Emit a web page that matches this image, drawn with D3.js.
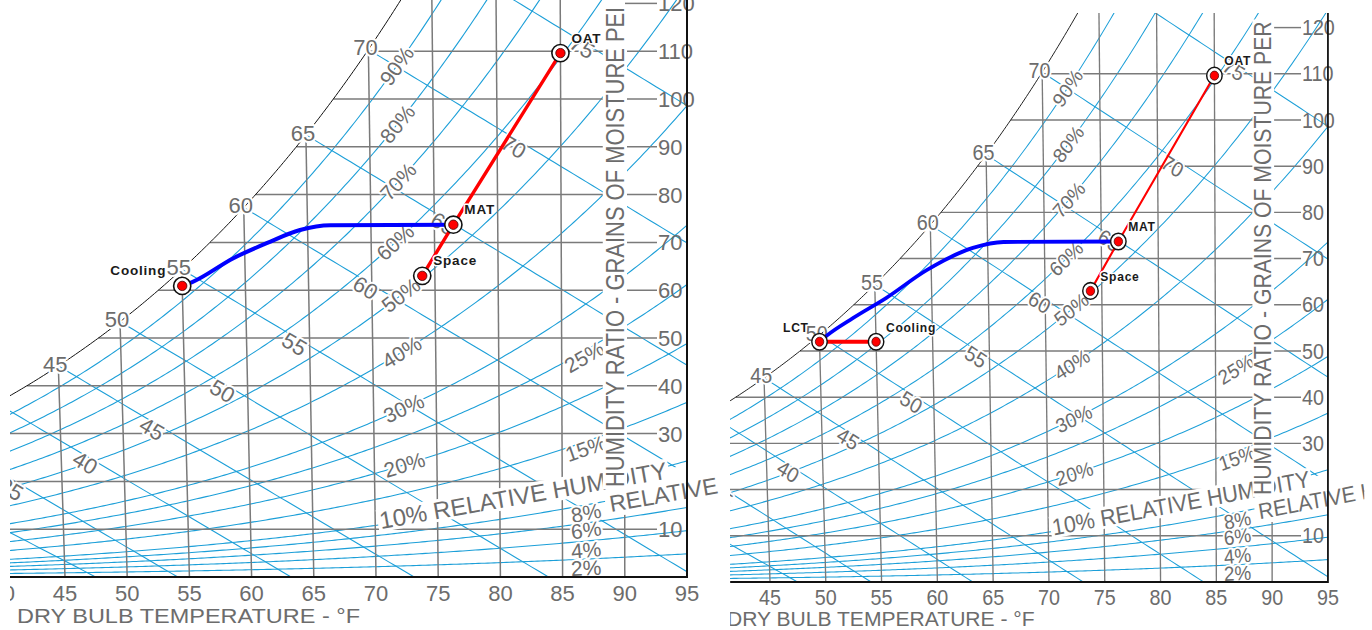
<!DOCTYPE html>
<html><head><meta charset="utf-8">
<script src="https://cdn.jsdelivr.net/npm/d3@7/dist/d3.min.js"></script>
<style>html,body{margin:0;padding:0;background:#fff;}svg{display:block;}</style>
</head><body>
<svg id="chart" width="1372" height="630"></svg>
<script>
// ================= DATA =================
const dryBulbTicks   = [40, 45, 50, 55, 60, 65, 70, 75, 80, 85, 90, 95];
const humidityTicks  = [10, 20, 30, 40, 50, 60, 70, 80, 90, 100, 110, 120];
const dryBulbGrid    = [45, 50, 55, 60, 65, 70, 75, 80, 85];
const humidityGrid   = [10, 20, 30, 40, 50, 60, 70, 80, 90, 100, 110];
const rhCurves       = [2, 4, 6, 8, 10, 15, 20, 25, 30, 40, 50, 60, 70, 80, 90];
const wetBulbCurves  = [30, 35, 40, 45, 50, 55, 60, 65, 70, 75];
const saturationLabels = [45, 50, 55, 60, 65, 70];
const rhLabelLevels  = [90, 80, 70, 60, 50, 40, 30, 20, 25, 15, 8, 6, 4, 2];
const wetBulbLabels  = [35, 40, 45, 50, 55, 60, 65, 70, 75];
const xTitle  = "DRY BULB TEMPERATURE - °F";
const yTitle  = "HUMIDITY RATIO - GRAINS OF MOISTURE PER";
const rhTitle = "10% RELATIVE HUMIDITY";
const rhTitle2 = "RELATIVE HUMIDITY";

// chart 1 states (dry bulb °F, humidity ratio grains/lb)
const chart1States  = ["Cooling", "Space", "MAT", "OAT"];
const chart1DryBulb = [55.0, 74.0, 76.5, 85.0];
const chart1Grains  = [60.9, 63.0, 73.7, 109.6];
const chart1CoilDryBulb = [55.0, 55.8, 59.1, 61.8, 64.4, 66.8, 76.5];
const chart1CoilGrains  = [60.9, 61.7, 66.7, 69.9, 72.6, 73.6, 73.7];

// chart 2 states
const chart2States  = ["LCT", "Cooling", "Space", "MAT", "OAT"];
const chart2DryBulb = [50.0, 55.0, 74.0, 76.5, 85.0];
const chart2Grains  = [52.0, 52.0, 63.0, 73.7, 109.6];
const chart2CoilDryBulb = [50.0, 50.7, 53.0, 56.0, 59.6, 63.7, 66.4, 76.5];
const chart2CoilGrains  = [52.0, 53.4, 57.1, 61.5, 67.5, 72.3, 73.6, 73.7];

// ================= LAYOUT (label placement) =================
const rhLabelDryBulb = [72.2, 72.2, 72.2, 71.9, 72.3, 72.3, 72.4, 72.4, 86.8, 86.9, 86.9, 86.9, 86.9, 86.9];
const rhLabelShift   = [0, 0, 0, 0, 0, 0, 0, 0, 6, 7, 8, 7, 9, 9];
const wbLabelDryBulb = [40.9, 46.9, 52.3, 58.0, 63.8, 69.5, 75.7, 81.3, 86.7];
const wbLabelGrains  = [18.4, 23.9, 31.0, 38.9, 48.7, 60.5, 73.9, 90.0, 110.9];

// ================= PSYCHROMETRICS =================
const PATM = 14.696, GR = 7000;
function pws(t){ const T = t + 459.67;
  if (t >= 32) return Math.exp(-1.0440397e4/T - 1.1294650e1 - 2.7022355e-2*T + 1.2890360e-5*T*T - 2.4780681e-9*T*T*T + 6.5459673*Math.log(T));
  return Math.exp(-1.0214165e4/T - 4.8932428 - 5.3765794e-3*T + 1.9202377e-7*T*T + 3.5575832e-10*T**3 - 9.0344688e-14*T**4 + 4.1635019*Math.log(T));
}
const wFromP = p => GR*0.621945*p/(PATM - p);
const wSat = t => wFromP(pws(t));
const wRH = (t, rh) => wFromP(rh/100*pws(t));
function wWB(t, twb){ const ws = wSat(twb)/GR;
  const w = twb >= 32 ? ((1093 - 0.556*twb)*ws - 0.240*(t - twb))/(1093 + 0.444*t - twb)
                      : ((1220 - 0.04*twb)*ws - 0.240*(t - twb))/(1220 + 0.444*t - 0.48*twb);
  return w*GR; }
function tDew(w){ let lo = 0, hi = 130; for (let i = 0; i < 60; i++){ const m = (lo+hi)/2; if (wSat(m) < w) lo = m; else hi = m; } return (lo+hi)/2; }

// ================= SCALES =================
const x = d3.scaleLinear().domain([45, 95]).range([65, 687]);
const y = d3.scaleLinear().domain([0, 120]).range([577, 3.4]);
const SKEW_T = 91, SKEW_K = 5.52e-5;   // oblique (enthalpy-based) dry-bulb lines
const P = (t, w) => [x(t) - SKEW_K*(x(SKEW_T) - x(t))*(y(0) - y(w)), y(w)];

const FONT = '"Liberation Sans", Arial, Helvetica, sans-serif';
const TXT = "#6c6c6c", GRID = "#7a7a7a", BLUE = "#1c9fd8";
const svg = d3.select("#chart");
const defs = svg.append("defs");
const line = d3.line();

function halo(sel, w){ return sel.attr("stroke", "#fff").attr("stroke-width", w).attr("stroke-linejoin", "round").attr("paint-order", "stroke"); }

function boxedText(parent, x0, y0, angle, str, size, len, pad, padTop){
  const gg = parent.append("g").attr("transform", `translate(${x0},${y0}) rotate(${angle})`);
  const r = gg.append("rect").attr("fill", "#fff");
  const t = gg.append("text").text(str).attr("font-family", FONT).attr("font-size", size).attr("fill", TXT);
  if (len) t.attr("textLength", len).attr("lengthAdjust", "spacingAndGlyphs");
  const bb = t.node().getBBox();
  const w = len ? len : bb.width;
  const pt = padTop === undefined ? pad : padTop;
  r.attr("x", bb.x - pad).attr("y", -size*0.74 - pt).attr("width", w + 2*pad).attr("height", size*0.74 + pt + pad + 1);
  return gg;
}

const panels = [
  { key: "a", transform: null, clipX0: 10, clipX1: 722, plotY0: -12, titleY0: 9,
    names: chart1States, T: chart1DryBulb, W: chart1Grains, coilT: chart1CoilDryBulb, coilW: chart1CoilGrains,
    red: [{states: ["Space", "MAT", "OAT"], width: 3.4}], leftLabels: {Cooling: -16} },
  { key: "b", transform: "translate(711.7,24.3) scale(0.897,0.9665)", clipX0: 20.5, clipX1: 727.5, plotY0: -11.7, titleY0: -12,
    names: chart2States, T: chart2DryBulb, W: chart2Grains, coilT: chart2CoilDryBulb, coilW: chart2CoilGrains,
    red: [{states: ["LCT", "Cooling"], width: 4.2}, {states: ["Space", "MAT", "OAT"], width: 2.3}], leftLabels: {LCT: -12} }
];

panels.forEach(pn => {
  defs.append("clipPath").attr("id", "pc" + pn.key).append("rect")
    .attr("x", pn.clipX0).attr("y", -40).attr("width", pn.clipX1 - pn.clipX0).attr("height", 700);
  defs.append("clipPath").attr("id", "pl" + pn.key).append("rect")
    .attr("x", pn.clipX0).attr("y", pn.plotY0).attr("width", x(95) - pn.clipX0).attr("height", y(0) - pn.plotY0);
  defs.append("clipPath").attr("id", "tt" + pn.key).append("rect")
    .attr("x", 0).attr("y", pn.titleY0).attr("width", 800).attr("height", 700);

  const g0 = svg.append("g");
  if (pn.transform) g0.attr("transform", pn.transform);
  const g = g0.append("g").attr("clip-path", `url(#pc${pn.key})`);
  const pg = g.append("g").attr("clip-path", `url(#pl${pn.key})`);

  // relative humidity curves
  rhCurves.forEach(rh => {
    const pts = d3.range(36, 100, 0.25).map(t => P(t, wRH(t, rh)));
    pg.append("path").attr("d", line(pts)).attr("fill", "none").attr("stroke", BLUE).attr("stroke-width", 1.1);
  });
  // wet bulb lines
  wetBulbCurves.forEach(wb => {
    const pts = [];
    for (let t = wb; t < wb + 70; t += 0.5){ const w = wWB(t, wb); pts.push(P(t, w)); if (w < 0) break; }
    pg.append("path").attr("d", line(pts)).attr("fill", "none").attr("stroke", BLUE).attr("stroke-width", 1.1);
  });
  // dry bulb grid
  dryBulbGrid.forEach(t => {
    pg.append("path").attr("d", line([P(t, 0), P(t, wSat(t))])).attr("stroke", GRID).attr("stroke-width", 1.5);
  });
  pg.append("path").attr("d", line([P(90, 0), P(90, 13)])).attr("stroke", GRID).attr("stroke-width", 1.5);
  // humidity grid
  humidityGrid.forEach(w => {
    const td = tDew(w);
    pg.append("path").attr("d", line([P(td, w), [x(95) - 30, y(w)]])).attr("stroke", GRID).attr("stroke-width", 1.5);
  });
  pg.append("path").attr("d", line([[x(95) - 62, y(120)], [x(95) - 30, y(120)]])).attr("stroke", GRID).attr("stroke-width", 1.5);
  // saturation curve
  pg.append("path").attr("d", line(d3.range(30, 80, 0.2).map(t => P(t, wSat(t))))).attr("fill", "none")
    .attr("stroke", "#111").attr("stroke-width", 1);

  // saturation labels
  saturationLabels.forEach(t => {
    const p = P(t, wSat(t));
    halo(pg.append("text").attr("x", p[0] - 3).attr("y", p[1] - 2).attr("dy", "0.35em").attr("text-anchor", "middle")
      .attr("font-family", FONT).attr("font-size", 22).attr("fill", TXT).text(t), 4);
  });
  // RH labels
  rhLabelLevels.forEach((rh, i) => {
    const t = rhLabelDryBulb[i];
    const p = P(t, wRH(t, rh)), a = P(t - 0.4, wRH(t - 0.4, rh)), b = P(t + 0.4, wRH(t + 0.4, rh));
    const ang = Math.atan2(b[1] - a[1], b[0] - a[0])*180/Math.PI;
    halo(pg.append("text").attr("transform", `translate(${p[0]},${p[1] + rhLabelShift[i]}) rotate(${ang})`)
      .attr("dy", "0.35em").attr("text-anchor", "middle").attr("font-family", FONT).attr("font-size", 21)
      .attr("fill", TXT).text(rh + "%"), 4);
  });
  // wet bulb labels
  wetBulbLabels.forEach((wb, i) => {
    const t = wbLabelDryBulb[i], w = wbLabelGrains[i];
    const p = P(t, w), a = P(t - 1, wWB(t - 1, wb)), b = P(t + 1, wWB(t + 1, wb));
    const ang = Math.atan2(b[1] - a[1], b[0] - a[0])*180/Math.PI;
    halo(pg.append("text").attr("transform", `translate(${p[0]},${p[1]}) rotate(${ang})`)
      .attr("dy", "0.35em").attr("text-anchor", "middle").attr("font-family", FONT).attr("font-size", 22)
      .attr("fill", TXT).text(wb), 4);
  });

  // tick labels
  dryBulbTicks.forEach(t => {
    g.append("text").attr("x", x(t)).attr("y", 601).attr("text-anchor", "middle").attr("font-family", FONT)
      .attr("font-size", 22).attr("fill", TXT).text(t);
  });
  humidityTicks.forEach(w => {
    g.append("text").attr("x", x(95) - 29).attr("y", y(w)).attr("dy", "0.36em").attr("font-family", FONT)
      .attr("font-size", 22).attr("fill", TXT).text(w);
  });
  // second relative humidity caption (its backing hides a tick label)
  boxedText(g, 611, 512, -10, rhTitle2, 23, null, 4, 16);
  // "10% RELATIVE HUMIDITY"
  boxedText(g, 381, 529, -10, rhTitle, 24, null, 2);
  // vertical title
  const tg = g.append("g").attr("clip-path", `url(#tt${pn.key})`);
  boxedText(tg, 624, 487, -90, yTitle, 26, 490, 2);

  // axes
  g.append("path").attr("d", line([[pn.clipX0, y(0)], [x(95), y(0)]])).attr("stroke", "#111").attr("stroke-width", 2);
  g.append("path").attr("d", line([[x(95), pn.plotY0], [x(95), y(0) + 1]])).attr("stroke", "#111").attr("stroke-width", 2);
  g.append("text").attr("x", 17).attr("y", 623).attr("font-family", FONT).attr("font-size", 21).attr("fill", TXT)
    .attr("textLength", 343).attr("lengthAdjust", "spacingAndGlyphs").text(xTitle);

  // process
  const st = {};
  pn.names.forEach((n, i) => st[n] = P(pn.T[i], pn.W[i]));
  const coil = pn.coilT.map((t, i) => P(t, pn.coilW[i]));
  g.append("path").attr("d", d3.line().curve(d3.curveMonotoneX)(coil)).attr("fill", "none")
    .attr("stroke", "#0000ff").attr("stroke-width", 4);
  pn.red.forEach(r => {
    g.append("path").attr("d", line(r.states.map(n => st[n]))).attr("fill", "none")
      .attr("stroke", "#ff0000").attr("stroke-width", r.width);
  });
  pn.names.forEach(n => {
    const p = st[n];
    const m = g.append("g").attr("transform", `translate(${p[0]},${p[1]})`);
    m.append("circle").attr("r", 8.6).attr("fill", "#fff").attr("stroke", "#111").attr("stroke-width", 1.6);
    m.append("circle").attr("r", 4.7).attr("fill", "#f00").attr("stroke", "#400").attr("stroke-width", 0.8);
  });
  pn.names.forEach(n => {
    const p = st[n];
    const left = pn.leftLabels[n] !== undefined;
    halo(g.append("text").attr("x", p[0] + (left ? pn.leftLabels[n] : 11)).attr("y", p[1] - 10.5)
      .attr("text-anchor", left ? "end" : "start").attr("font-family", FONT).attr("font-weight", "bold")
      .attr("font-size", 13.5).attr("letter-spacing", 0.8).attr("fill", "#1a1a1a").text(n), 3);
  });
});
</script></body></html>
